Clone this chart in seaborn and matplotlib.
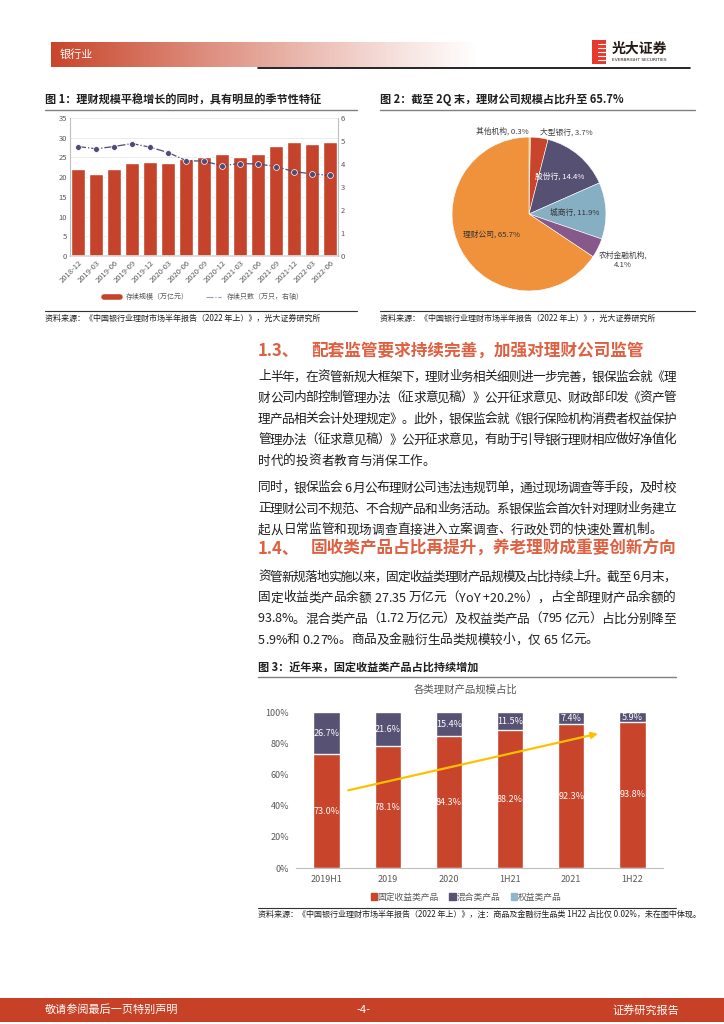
import numpy as np
import pandas as pd
import matplotlib
matplotlib.use("Agg")
import matplotlib.pyplot as plt
import seaborn as sns
from matplotlib.font_manager import FontProperties
from matplotlib.lines import Line2D
from matplotlib.patches import Patch, Rectangle

# 图1 数据
months = ["2018-12", "2019-03", "2019-06", "2019-09", "2019-12", "2020-03", "2020-06",
          "2020-09", "2020-12", "2021-03", "2021-06", "2021-09", "2021-12", "2022-03", "2022-06"]
scale_wanyi = [22.0, 20.8, 22.0, 23.5, 23.9, 23.5, 24.5, 25.2, 25.9, 25.0, 25.8, 28.0, 29.0, 28.5, 29.0]
count_wanzhi = [4.76, 4.66, 4.76, 4.89, 4.73, 4.50, 4.15, 4.12, 3.93, 4.02, 4.00, 3.89, 3.67, 3.57, 3.51]

# 图2 数据
pie_names = ["其他机构", "大型银行", "股份行", "城商行", "农村金融机构", "理财公司"]
pie_share = [0.3, 3.7, 14.4, 11.9, 4.1, 65.7]

# 图3 数据
periods = ["2019H1", "2019", "2020", "1H21", "2021", "1H22"]
fixed_pct = [73.0, 78.1, 84.3, 88.2, 92.3, 93.8]
mixed_pct = [26.7, 21.6, 15.4, 11.5, 7.4, 5.9]
equity_pct = [0.3, 0.3, 0.3, 0.3, 0.3, 0.27]
trend_x = [0.31, 4.48]
trend_y = [49.4, 86.5]

RED = "#C5432A"
HEAD = "#DF5F40"
GRAY = "#595959"

sns.set_theme(style="white")
plt.rcParams['font.family'] = ['Noto Sans CJK SC', 'DejaVu Sans']
plt.rcParams['axes.unicode_minus'] = False

W, H = 724, 1024
fig = plt.figure(figsize=(W / 100, H / 100), dpi=100)
page = fig.add_axes([0, 0, 1, 1], zorder=-1)


def box(l, t, r, b):
    return [l / W, 1 - b / H, (r - l) / W, (b - t) / H]


# ---- 页眉 ----
g = np.linspace(0, 1, 300)
img = np.ones((1, 300, 4))
img[..., :3] = matplotlib.colors.to_rgb("#C8442A")
img[..., 3] = np.clip(1 - g, 0, 1) ** 1.1
page.imshow(img, extent=(51, 480, 67, 42), aspect='auto', zorder=0)
page.set_xlim(0, W)
page.set_ylim(H, 0)
page.axis('off')
page.text(60, 55, "银行业", color="white", fontsize=8, va='center')
page.plot([258, 690], [68, 68], color="black", lw=1.2)
page.add_patch(Rectangle((592, 40), 14, 24, color="#E8382B", lw=0))
for yy in [44, 48, 52, 56, 60]:
    page.plot([598, 606], [yy, yy], color="white", lw=0.8)
page.text(612, 49, "光大证券", fontsize=10, fontweight='bold', color="#231815", va='center')
page.text(612, 60, "EVERBRIGHT SECURITIES", fontsize=3.2, color="#231815", va='center',
          family='DejaVu Sans')

# ---- 图标题 ----
page.text(45, 100, "图 1：理财规模平稳增长的同时，具有明显的季节性特征", fontsize=8,
          fontweight='bold', color="#1F1F1F", va='center')
page.plot([45, 357], [110, 110], color="#808080", lw=1)
page.text(380, 100, "图 2：截至 2Q 末，理财公司规模占比升至 65.7%", fontsize=8,
          fontweight='bold', color="#1F1F1F", va='center')
page.plot([380, 695], [110, 110], color="#808080", lw=1)
page.plot([45, 357], [311, 311], color="#333333", lw=0.8)
page.plot([380, 695], [311, 311], color="#333333", lw=0.8)
src1 = "资料来源：《中国银行业理财市场半年报告（2022 年上）》，光大证券研究所"
page.text(45, 318, src1, fontsize=5.8, color="#1F1F1F", va='center')
page.text(380, 318, src1, fontsize=5.8, color="#1F1F1F", va='center')

# ---- 图1 ----
ax1 = fig.add_axes(box(70, 118, 338, 256))
df1 = pd.DataFrame({"月份": months, "存续规模": scale_wanyi})
sns.barplot(data=df1, x="月份", y="存续规模", color=RED, saturation=1, width=0.74, ax=ax1)
ax1.set_ylim(0, 35)
ax1.set_yticks(range(0, 36, 5))
ax1.grid(axis='y', color="#E3E3E3", lw=0.5)
ax1.set_axisbelow(True)
ax1.set_xlabel("")
ax1.set_ylabel("")
ax2 = ax1.twinx()
sns.lineplot(x=np.arange(len(months)), y=count_wanzhi, ax=ax2, color="#4E4B78",
             linestyle='-.', lw=0.9, marker='o', markersize=4.2,
             markeredgecolor='white', markeredgewidth=0.5)
ax2.set_ylim(0, 6)
ax2.set_yticks(range(0, 7))
ax1.set_xlim(-0.45, len(months) - 0.55)
ax1.set_xticks(range(len(months)))
ax1.set_xticklabels(months, rotation=45, ha='right', rotation_mode='anchor')
for a in (ax1, ax2):
    a.tick_params(labelsize=5.5, colors=GRAY, length=0, pad=2)
    for s in a.spines.values():
        s.set_visible(False)
ax1.spines['left'].set_visible(True)
ax1.spines['left'].set_color("#BFBFBF")
ax1.spines['left'].set_linewidth(0.8)
ax2.spines['right'].set_visible(True)
ax2.spines['right'].set_color("#BFBFBF")
ax2.spines['right'].set_linewidth(0.8)
ax1.spines['bottom'].set_visible(True)
ax1.spines['bottom'].set_color("#D9D9D9")
h1 = [Line2D([], [], color=RED, lw=4), Line2D([], [], color="#9A98B8", lw=0.8, linestyle='-.')]
ax1.legend(h1, ["存续规模（万亿元）", "存续只数（万只，右轴）"], loc='center',
           bbox_to_anchor=(204 / W, 1 - 297 / H), bbox_transform=fig.transFigure,
           ncol=2, frameon=False, fontsize=5, handlelength=2.2, columnspacing=2.5,
           labelcolor=GRAY)

# ---- 图2 ----
axp = fig.add_axes(box(429, 114, 629, 314))
pie_colors = ["#E6C13C", "#C8442A", "#565073", "#87AFC4", "#86598A", "#F0923B"]
wedges, _ = axp.pie(pie_share, colors=pie_colors, startangle=90, counterclock=False,
                    wedgeprops=dict(linewidth=0.4, edgecolor='white'))
axp.set_xlim(-1.3, 1.3)
axp.set_ylim(-1.3, 1.3)
axp.set_aspect('equal')
lab_r = [1.07, 1.07, 0.62, 0.6, 1.36, 0.56]
lab_ha = ['right', 'left', 'center', 'center', 'center', 'center']
lab_col = ["#404040", "#404040", "white", "#333333", "#404040", "#333333"]
for w, name, v, r, ha, c in zip(wedges, pie_names, pie_share, lab_r, lab_ha, lab_col):
    th = np.deg2rad((w.theta1 + w.theta2) / 2)
    txt = f"{name}, {v}%" if name != "农村金融机构" else f"{name},\n{v}%"
    xx, yy = r * np.cos(th), r * np.sin(th)
    if ha == 'right':
        xx = 0.0
    axp.text(xx, yy, txt, ha=ha, va='center', fontsize=5.6, color=c, linespacing=1.3)

# ---- 正文 ----
renderer = fig.canvas.get_renderer()


def put_line(x0, x1, y, s, fs=9.1, justify=True, color="#1F1F1F"):
    fp = FontProperties(family=['Noto Sans CJK SC', 'DejaVu Sans'], size=fs)
    ws = [renderer.get_text_width_height_descent(c, fp, ismath=False)[0] for c in s]
    gap = (x1 - x0 - sum(ws)) / (len(s) - 1) if justify else 0
    x = x0
    for c, w in zip(s, ws):
        page.text(x, y, c, fontproperties=fp, color=color, ha='left', va='center')
        x += w + gap


page.text(258, 351, "1.3、", fontsize=12, fontweight='bold', color=HEAD, va='center')
page.text(311, 351, "配套监管要求持续完善，加强对理财公司监管", fontsize=12,
          fontweight='bold', color=HEAD, va='center')
para1 = ["上半年，在资管新规大框架下，理财业务相关细则进一步完善，银保监会就《理",
         "财公司内部控制管理办法（征求意见稿）》公开征求意见、财政部印发《资产管",
         "理产品相关会计处理规定》。此外，银保监会就《银行保险机构消费者权益保护",
         "管理办法（征求意见稿）》公开征求意见，有助于引导银行理财相应做好净值化",
         "时代的投资者教育与消保工作。"]
para2 = ["同时，银保监会 6 月公布理财公司违法违规罚单，通过现场调查等手段，及时校",
         "正理财公司不规范、不合规产品和业务活动。系银保监会首次针对理财业务建立",
         "起从日常监管和现场调查直接进入立案调查、行政处罚的快速处置机制。"]
for i, s in enumerate(para1):
    put_line(258, 676, 377 + 21 * i, s, justify=i < len(para1) - 1)
for i, s in enumerate(para2):
    put_line(258, 676, 488 + 21 * i, s, justify=i < len(para2) - 1)

page.text(258, 549, "1.4、", fontsize=12, fontweight='bold', color=HEAD, va='center')
page.text(311, 549, "固收类产品占比再提升，养老理财成重要创新方向", fontsize=12,
          fontweight='bold', color=HEAD, va='center')
para3 = ["资管新规落地实施以来，固定收益类理财产品规模及占比持续上升。截至 6 月末，",
         "固定收益类产品余额 27.35 万亿元（YoY +20.2%），占全部理财产品余额的",
         "93.8%。混合类产品（1.72 万亿元）及权益类产品（795 亿元）占比分别降至",
         "5.9%和 0.27%。商品及金融衍生品类规模较小，仅 65 亿元。"]
for i, s in enumerate(para3):
    put_line(258, 676, 577 + 21 * i, s, justify=i < len(para3) - 1)

# ---- 图3 ----
page.text(258, 667, "图 3：近年来，固定收益类产品占比持续增加", fontsize=8,
          fontweight='bold', color="#1F1F1F", va='center')
page.plot([258, 676], [677, 677], color="#808080", lw=1)
page.text(466, 690, "各类理财产品规模占比", fontsize=7.5, color=GRAY, ha='center', va='center')
page.plot([258, 676], [908, 908], color="#333333", lw=0.8)
page.text(258, 914, "资料来源：《中国银行业理财市场半年报告（2022 年上）》，注：商品及金融衍生品类 1H22 占比仅 0.02%，未在图中体现。",
          fontsize=5.8, color="#1F1F1F", va='center')

ax3 = fig.add_axes(box(296, 712, 663, 868))
df3 = pd.DataFrame({"时间": periods, "固定收益类产品": fixed_pct,
                    "混合类产品": mixed_pct, "权益类产品": equity_pct})
df3["fm"] = df3["固定收益类产品"] + df3["混合类产品"]
df3["all"] = df3["fm"] + df3["权益类产品"]
c_fix, c_mix, c_eq = "#C8442A", "#575274", "#8FB6CA"
sns.barplot(data=df3, x="时间", y="all", color=c_eq, saturation=1, width=0.43, ax=ax3)
sns.barplot(data=df3, x="时间", y="fm", color=c_mix, saturation=1, width=0.43, ax=ax3)
sns.barplot(data=df3, x="时间", y="固定收益类产品", color=c_fix, saturation=1, width=0.43, ax=ax3)
ax3.set_ylim(0, 100)
ax3.set_xlim(-0.5, len(periods) - 0.5)
ax3.set_yticks(range(0, 101, 20))
ax3.set_yticklabels([f"{v}%" for v in range(0, 101, 20)])
ax3.set_xlabel("")
ax3.set_ylabel("")
for s in ['top', 'right', 'left']:
    ax3.spines[s].set_visible(False)
ax3.spines['bottom'].set_color("#BFBFBF")
ax3.spines['bottom'].set_linewidth(0.8)
ax3.set_xticks(np.arange(-0.5, len(periods)), minor=True)
ax3.tick_params(axis='x', which='minor', length=3, width=0.6, color="#BFBFBF", direction='out')
ax3.tick_params(axis='both', which='major', length=0, labelsize=6.5, colors=GRAY, pad=5)
for i in range(len(periods)):
    ax3.text(i, fixed_pct[i] / 2, f"{fixed_pct[i]:.1f}%", ha='center', va='center',
             fontsize=6.5, color="white")
    ax3.text(i, fixed_pct[i] + mixed_pct[i] / 2, f"{mixed_pct[i]:.1f}%", ha='center',
             va='center', fontsize=6.5, color="white")
ax3.annotate("", xy=(trend_x[1], trend_y[1]), xytext=(trend_x[0], trend_y[0]),
             arrowprops=dict(arrowstyle='-|>', color="#FFC000", lw=1.6, mutation_scale=9))
h3 = [Patch(color=c_fix), Patch(color=c_mix), Patch(color=c_eq)]
ax3.legend(h3, ["固定收益类产品", "混合类产品", "权益类产品"], loc='center',
           bbox_to_anchor=(466 / W, 1 - 897 / H), bbox_transform=fig.transFigure,
           ncol=3, frameon=False, fontsize=6.3, handlelength=0.7, handleheight=0.7,
           handletextpad=0.1, columnspacing=1.2, labelcolor=GRAY)

# ---- 页脚 ----
page.add_patch(Rectangle((0, 998), W, 24, color="#C64125", lw=0))
page.text(45, 1010, "敬请参阅最后一页特别声明", fontsize=8, color="white", va='center')
page.text(363, 1010, "-4-", fontsize=8, color="white", va='center', ha='center')
page.text(679, 1010, "证券研究报告", fontsize=8, color="white", va='center', ha='right')

fig.savefig("out.png", dpi=100)
